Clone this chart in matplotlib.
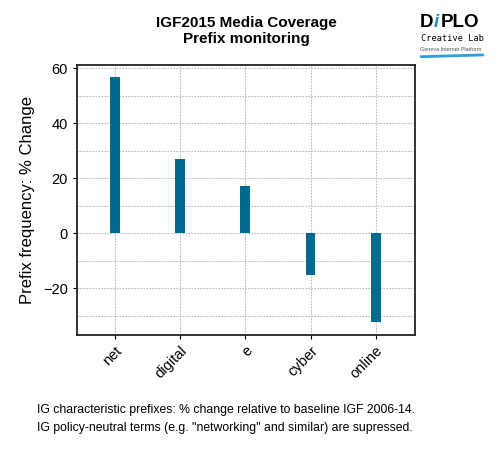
import matplotlib.pyplot as plt
from matplotlib.ticker import MultipleLocator

plt.rcParams['font.family'] = ['Liberation Sans', 'DejaVu Sans']

# ======================== DATA ======================================
prefixes = ["net", "digital", "e", "cyber", "online"]
pct_change = [56.7, 27.0, 17.2, -15.4, -32.5]

bar_color = "#006a8e"

# ======================== PLOT ======================================
fig = plt.figure(figsize=(5, 4.5), dpi=100)
ax = fig.add_axes([0.154, 0.256, 0.676, 0.6])

xs = range(len(prefixes))
ax.bar(xs, pct_change, width=0.15, color=bar_color, zorder=3)

ax.set_xlim(-0.58, 4.6)
ax.set_ylim(-37, 61.2)
ax.yaxis.set_major_locator(MultipleLocator(20))
ax.yaxis.set_minor_locator(MultipleLocator(10))
ax.grid(which='both', color='#bbbbbb', linestyle=(0, (1.5, 1.2)), linewidth=0.8, zorder=0)
ax.set_xticks(list(xs))
ax.set_xticklabels(prefixes, rotation=45, ha='right', rotation_mode='anchor', fontsize=10.5)
ax.tick_params(axis='y', labelsize=10.5, length=3, which='major')
ax.tick_params(axis='y', which='minor', length=0)
ax.tick_params(axis='x', length=3)
for sp in ax.spines.values():
    sp.set_linewidth(1.3)
    sp.set_color('#222222')

ax.set_ylabel("Prefix frequency: % Change", fontsize=12, labelpad=6)

fig.text(0.492, 0.95, "IGF2015 Media Coverage", ha='center', va='center',
         fontsize=11, fontweight='bold')
fig.text(0.492, 0.913, "Prefix monitoring", ha='center', va='center',
         fontsize=11, fontweight='bold')

# logo
fig.text(0.840, 0.95, "D", ha='left', va='center', fontsize=13.5, fontweight='bold', color='black')
fig.text(0.867, 0.95, "i", ha='left', va='center', fontsize=13.5, fontweight='bold',
         color='#1a8cc8', style='italic')
fig.text(0.881, 0.95, "PLO", ha='left', va='center', fontsize=13.5, fontweight='bold', color='black')
fig.text(0.842, 0.914, "Creative Lab", ha='left', va='center', fontsize=6.2,
         family=['DejaVu Sans Mono', 'DejaVu Sans'])
fig.text(0.841, 0.889, "Geneva Internet Platform", ha='left', va='center', fontsize=4.0,
         color='#555555')
fig.add_artist(plt.Line2D([0.842, 0.966], [0.874, 0.878], color='#2aa0e0', linewidth=2.0,
                          solid_capstyle='round'))

fig.text(0.074, 0.088, "IG characteristic prefixes: % change relative to baseline IGF 2006-14.",
         ha='left', va='center', fontsize=8.8)
fig.text(0.074, 0.049, "IG policy-neutral terms (e.g. \"networking\" and similar) are supressed.",
         ha='left', va='center', fontsize=8.8)

fig.savefig("out.png", dpi=100)
